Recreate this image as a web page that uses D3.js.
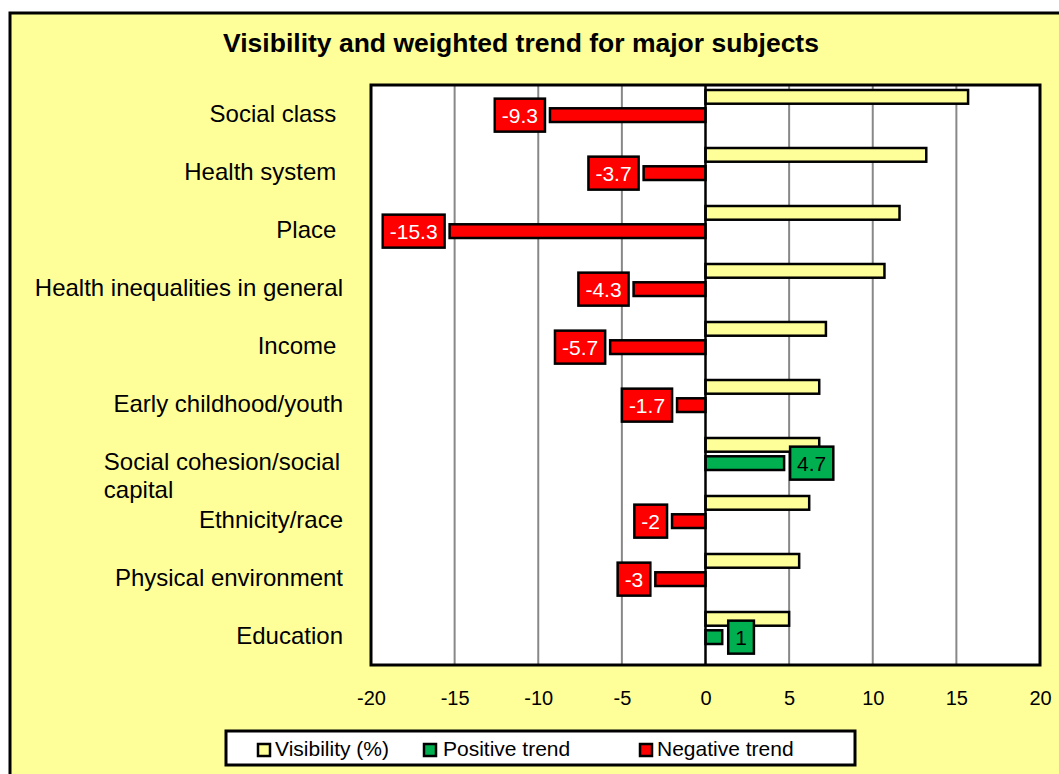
<!DOCTYPE html>
<html>
<head>
<meta charset="utf-8">
<script src="https://cdn.jsdelivr.net/npm/d3@7/dist/d3.min.js"></script>
<style>
  html, body { margin: 0; padding: 0; background: #fff; }
  svg { display: block; font-family: "Liberation Sans", Arial, sans-serif; }
</style>
</head>
<body>
<svg id="chart" width="1059" height="774"></svg>
<script>
// ---- data ----
const title = "Visibility and weighted trend for major subjects";
const categories = [
  "Social class ",
  "Health system ",
  "Place ",
  "Health inequalities in general",
  "Income ",
  "Early childhood/youth",
  "Social cohesion/social\ncapital",
  "Ethnicity/race",
  "Physical environment",
  "Education"
];
const visibility    = [15.7, 13.2, 11.6, 10.7, 7.2, 6.8, 6.8, 6.2, 5.6, 5.0];
const positiveTrend = [null, null, null, null, null, null, 4.7, null, null, 1];
const negativeTrend = [-9.3, -3.7, -15.3, -4.3, -5.7, -1.7, null, -2, -3, null];
const xTicks = [-20, -15, -10, -5, 0, 5, 10, 15, 20];
const seriesNames = ["Visibility (%)", "Positive trend", "Negative trend"];
const seriesColors = ["#FFFF99", "#00B050", "#FF0000"];

// ---- layout ----
const svg = d3.select("#chart");
const plot = { left: 371, right: 1040, top: 85, bottom: 665 };

svg.append("rect").attr("x", 0).attr("y", 0).attr("width", 1059).attr("height", 774).attr("fill", "#fff");
svg.append("rect").attr("x", 10).attr("y", 13).attr("width", 1080).attr("height", 800)
  .attr("fill", "#FFFF99").attr("stroke", "#000").attr("stroke-width", 3);

svg.append("text").attr("x", 521).attr("y", 52).attr("text-anchor", "middle")
  .attr("font-size", 26.5).attr("font-weight", "bold").text(title);

const x = d3.scaleLinear().domain([-20, 20]).range([plot.left, plot.right]);
const y = d3.scaleBand().domain(categories).range([plot.top, plot.bottom]).padding(0);
const sub = d3.scaleBand().domain(["vis", "trend"]).range([5, 37]).paddingInner(0.25);

svg.append("rect").attr("x", plot.left).attr("y", plot.top)
  .attr("width", plot.right - plot.left).attr("height", plot.bottom - plot.top).attr("fill", "#fff");

// gridlines
svg.append("g").selectAll("line").data(xTicks.filter(t => t !== 0 && t !== -20 && t !== 20))
  .join("line")
  .attr("x1", d => x(d)).attr("x2", d => x(d))
  .attr("y1", plot.top).attr("y2", plot.bottom)
  .attr("stroke", "#888").attr("stroke-width", 2);

const rows = categories.map((c, i) => ({
  c, vis: visibility[i], pos: positiveTrend[i], neg: negativeTrend[i]
}));

// visibility bars
svg.append("g").selectAll("rect").data(rows).join("rect")
  .attr("x", x(0)).attr("y", d => y(d.c) + sub("vis"))
  .attr("width", d => x(d.vis) - x(0)).attr("height", sub.bandwidth())
  .attr("fill", seriesColors[0]).attr("stroke", "#000").attr("stroke-width", 2.5);

// trend bars
const trendRows = rows.map(d => {
  const v = d.pos != null ? d.pos : d.neg;
  return { c: d.c, v, positive: d.pos != null };
});
svg.append("g").selectAll("rect").data(trendRows).join("rect")
  .attr("x", d => x(Math.min(0, d.v))).attr("y", d => y(d.c) + sub("trend"))
  .attr("width", d => Math.abs(x(d.v) - x(0))).attr("height", sub.bandwidth())
  .attr("fill", d => d.positive ? seriesColors[1] : seriesColors[2])
  .attr("stroke", "#000").attr("stroke-width", 2.5);

// zero line
svg.append("line").attr("x1", x(0)).attr("x2", x(0)).attr("y1", plot.top).attr("y2", plot.bottom)
  .attr("stroke", "#000").attr("stroke-width", 2.5);

// plot border
svg.append("rect").attr("x", plot.left).attr("y", plot.top)
  .attr("width", plot.right - plot.left).attr("height", plot.bottom - plot.top)
  .attr("fill", "none").attr("stroke", "#000").attr("stroke-width", 3);

// data labels
const lblG = svg.append("g").attr("font-size", 21);
trendRows.forEach(d => {
  const g = lblG.append("g");
  const cy = y(d.c) + sub("trend") + sub.bandwidth() / 2;
  const t = g.append("text").attr("y", cy).attr("dy", "0.36em")
    .attr("fill", d.positive ? "#000" : "#fff").text(String(d.v));
  const w = t.node().getComputedTextLength();
  const pad = 7, gap = 5;
  const bw = w + 2 * pad, bh = 33;
  const bx = d.positive ? x(d.v) + gap + 1 : x(d.v) - gap - bw;
  g.insert("rect", "text").attr("x", bx).attr("y", cy - bh / 2)
    .attr("width", bw).attr("height", bh)
    .attr("fill", d.positive ? seriesColors[1] : seriesColors[2])
    .attr("stroke", "#000").attr("stroke-width", 2.5);
  t.attr("x", bx + pad);
});

// x axis
const xAxis = svg.append("g").attr("transform", `translate(0,${plot.bottom})`)
  .call(d3.axisBottom(x).tickValues(xTicks).tickSize(0).tickPadding(26).tickFormat(d => String(d)));
xAxis.select(".domain").remove();
xAxis.selectAll("text").attr("font-size", 20).attr("fill", "#000")
  .attr("font-family", "Liberation Sans, Arial, sans-serif");

// category labels
const catG = svg.append("g").attr("font-size", 24).attr("fill", "#000");
categories.forEach(c => {
  const cy = y(c) + y.bandwidth() / 2;
  const lines = c.split("\n");
  const t = catG.append("text").attr("y", cy).attr("dy", "0.35em").style("white-space", "pre");
  if (lines.length === 1) {
    t.attr("x", 343).attr("text-anchor", "end").text(c);
  } else {
    const spans = lines.map((ln, i) => t.append("tspan").attr("dy", i === 0 ? "0.35em" : 28).text(ln));
    t.attr("dy", null);
    const maxW = d3.max(spans, s => s.node().getComputedTextLength());
    const x0 = 340 - maxW;
    spans.forEach(s => s.attr("x", x0));
  }
});

// legend
const leg = svg.append("g");
leg.append("rect").attr("x", 226).attr("y", 731).attr("width", 629).attr("height", 34)
  .attr("fill", "#fff").attr("stroke", "#000").attr("stroke-width", 3);
const legSq = [258, 424, 640];
const legTx = [275, 443, 657];
seriesNames.forEach((n, i) => {
  leg.append("rect").attr("x", legSq[i]).attr("y", 744).attr("width", 12).attr("height", 12)
    .attr("fill", seriesColors[i]).attr("stroke", "#000").attr("stroke-width", 2.5);
  leg.append("text").attr("x", legTx[i]).attr("y", 756).attr("font-size", 21).text(n);
});
</script>
</body>
</html>
